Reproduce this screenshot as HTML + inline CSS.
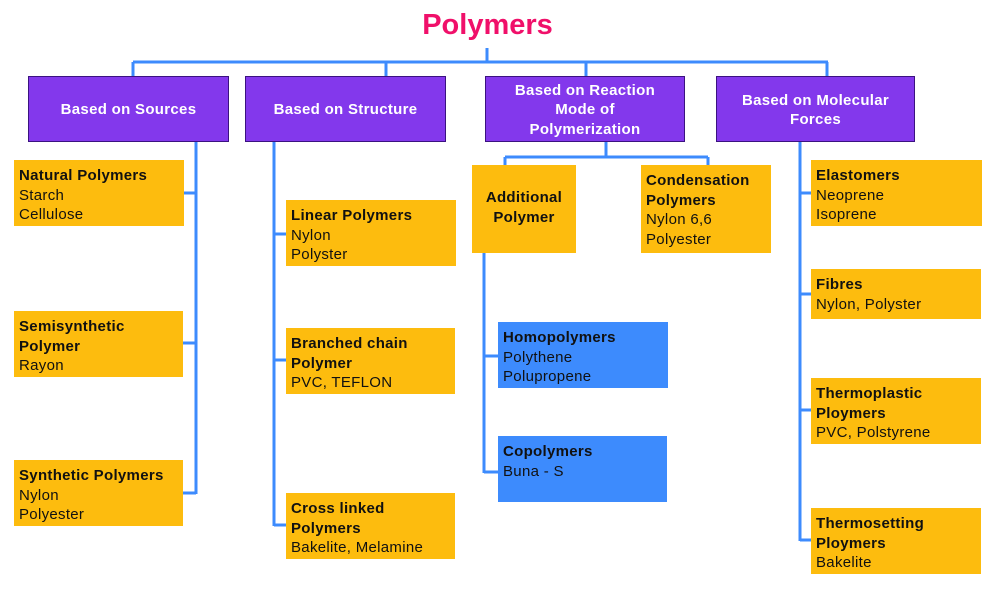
<!DOCTYPE html>
<html><head><meta charset="utf-8"><style>
body{margin:0;width:1000px;height:602px;background:#fff;position:relative;overflow:hidden;font-family:"Liberation Sans",sans-serif}
.b{position:absolute;box-sizing:border-box;font-size:15px;line-height:19.5px;color:#111;padding:6px 0 0 5px;letter-spacing:0.3px}
.y{background:#fdbc0e}
.u{background:#3d8bfd}
.b b{font-weight:bold}
.p{position:absolute;box-sizing:border-box;background:#8338ec;border:1.5px solid #3b1280;color:#fff;font-weight:bold;font-size:15px;line-height:19.5px;display:flex;align-items:center;justify-content:center;text-align:center;padding-top:2px;letter-spacing:0.3px}
.t{position:absolute;left:0;width:975px;top:9px;text-align:center;font-size:29px;font-weight:bold;color:#f0106a}
svg{position:absolute;left:0;top:0}
</style></head><body>
<svg width="1000" height="602" stroke="#3d8bfd" stroke-width="3" fill="none">
<path d="M487 48V62M133 62H828M133 62V76M386 62V76M586 62V76M827 62V76"/>
<path d="M196 142V494M183 193H196M182 343H196M182 493H196"/>
<path d="M274 142V526M274 234H286M274 360H286M274 525H286"/>
<path d="M606 142V157M505 157H708M505 157V165M708 157V165"/>
<path d="M484 253V473M484 356H498M484 472H498"/>
<path d="M800 142V541M800 193H811M800 294H811M800 410H811M800 540H811"/>
</svg>
<div class="t">Polymers</div>
<div class="p" style="left:28px;top:76px;width:201px;height:66px">Based on Sources</div>
<div class="p" style="left:245px;top:76px;width:201px;height:66px">Based on Structure</div>
<div class="p" style="left:485px;top:76px;width:200px;height:66px">Based on Reaction<br>Mode of<br>Polymerization</div>
<div class="p" style="left:716px;top:76px;width:199px;height:66px">Based on Molecular<br>Forces</div>

<div class="b y" style="left:14px;top:160px;width:170px;height:66px"><b>Natural Polymers</b><br>Starch<br>Cellulose</div>
<div class="b y" style="left:14px;top:311px;width:169px;height:66px"><b>Semisynthetic<br>Polymer</b><br>Rayon</div>
<div class="b y" style="left:14px;top:460px;width:169px;height:66px"><b>Synthetic Polymers</b><br>Nylon<br>Polyester</div>

<div class="b y" style="left:286px;top:200px;width:170px;height:66px"><b>Linear Polymers</b><br>Nylon<br>Polyster</div>
<div class="b y" style="left:286px;top:328px;width:169px;height:66px"><b>Branched chain<br>Polymer</b><br>PVC, TEFLON</div>
<div class="b y" style="left:286px;top:493px;width:169px;height:66px"><b>Cross linked<br>Polymers</b><br>Bakelite, Melamine</div>

<div class="b y" style="left:472px;top:165px;width:104px;height:88px;padding:23px 0 0 0;text-align:center"><b>Additional<br>Polymer</b></div>
<div class="b y" style="left:641px;top:165px;width:130px;height:88px"><b>Condensation<br>Polymers</b><br>Nylon 6,6<br>Polyester</div>
<div class="b u" style="left:498px;top:322px;width:170px;height:66px"><b>Homopolymers</b><br>Polythene<br>Polupropene</div>
<div class="b u" style="left:498px;top:436px;width:169px;height:66px"><b>Copolymers</b><br>Buna - S</div>

<div class="b y" style="left:811px;top:160px;width:171px;height:66px"><b>Elastomers</b><br>Neoprene<br>Isoprene</div>
<div class="b y" style="left:811px;top:269px;width:170px;height:50px"><b>Fibres</b><br>Nylon, Polyster</div>
<div class="b y" style="left:811px;top:378px;width:170px;height:66px"><b>Thermoplastic<br>Ploymers</b><br>PVC, Polstyrene</div>
<div class="b y" style="left:811px;top:508px;width:170px;height:66px"><b>Thermosetting<br>Ploymers</b><br>Bakelite</div>
</body></html>
